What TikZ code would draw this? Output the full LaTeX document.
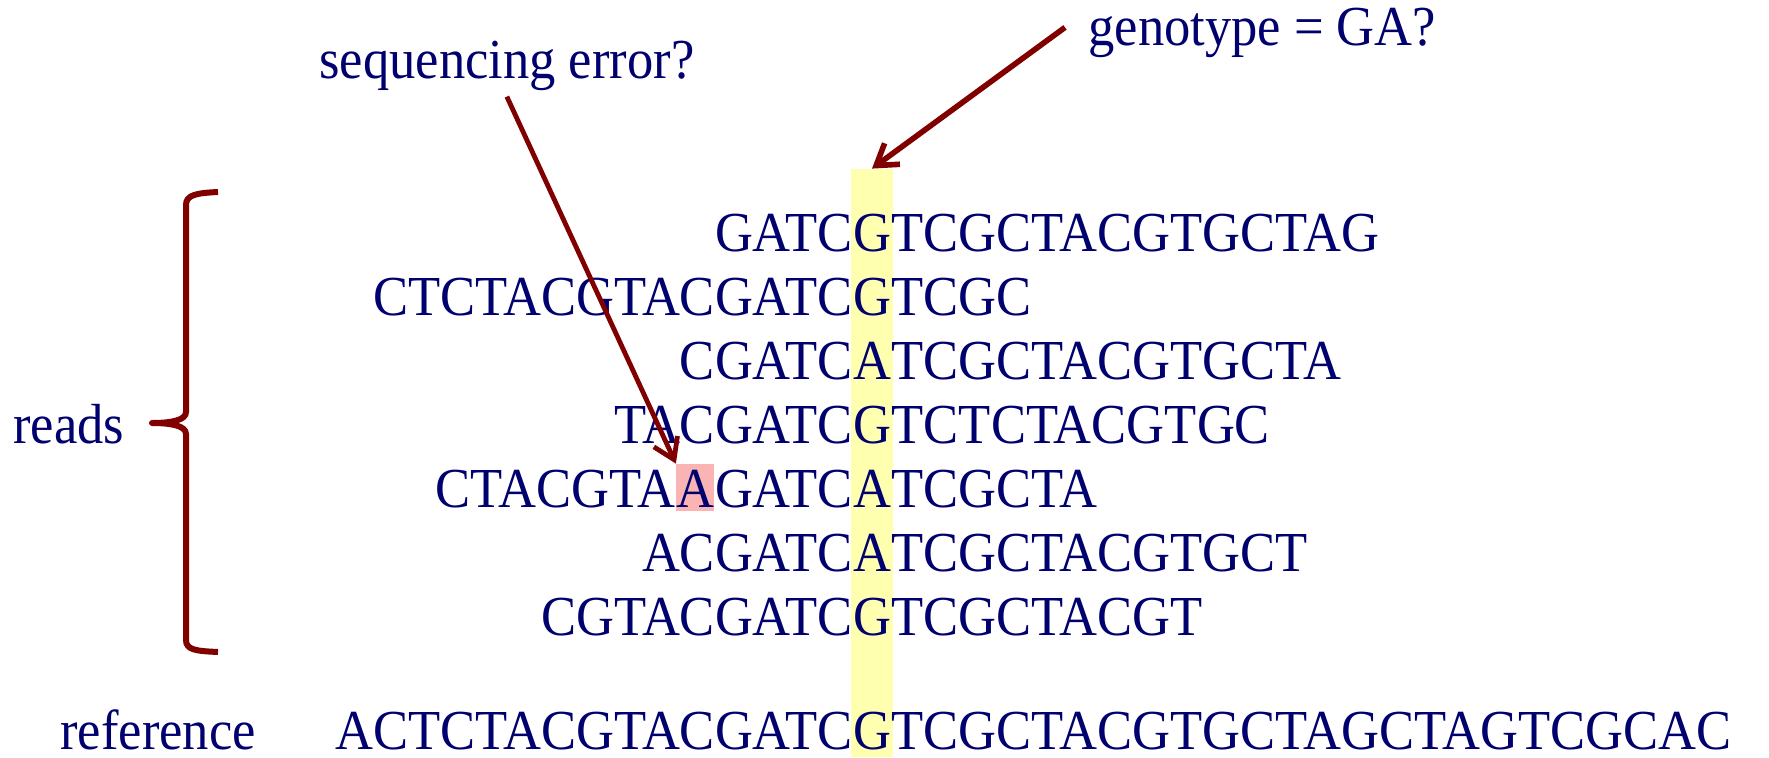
\documentclass[tikz,border=0pt]{standalone}
\usepackage{fontspec}
\setmainfont{Liberation Serif}[FakeStretch=0.93]
\usetikzlibrary{arrows.meta,positioning}
\definecolor{navy}{RGB}{0,0,110}
\definecolor{darkred}{RGB}{128,0,0}
\definecolor{snpyellow}{RGB}{255,255,176}
\definecolor{errpink}{RGB}{250,180,180}

\begin{document}
\begin{tikzpicture}[x=0.5pt, y=-0.5pt, font=\fontsize{28.25}{34}\selectfont,
  >={Straight Barb[length=10pt,width=13pt]},
  seq/.style={inner sep=0pt, text=navy},
  lbl/.style={inner sep=0pt, text=navy},
  pointer/.style={->, draw=darkred, line width=2.8pt}]
\useasboundingbox (0,0) rectangle (1769,757);
% highlighted column at the variant site
\node[fill=snpyellow, minimum width=21pt, minimum height=294pt, inner sep=0pt]
  (col) at (872,463) {};
% reads, each split round the base in the column
\foreach \pre/\snp/\post [count=\i] in {GATC/G/TCGCTACGTGCTAG,
    CTCTACGTACGATC/G/TCGC, CGATC/A/TCGCTACGTGCTA, TACGATC/G/TCTCTACGTGC,
    GATC/A/TCGCTA, ACGATC/A/TCGCTACGTGCT, CGTACGATC/G/TCGCTACGT}{
  \node[seq, anchor=base] (m\i) at (872,{187+64*\i}) {\snp};
  \node[seq, anchor=base east] (l\i) at (m\i.base west) {\pre};
  \node[seq, anchor=base west] (r\i) at (m\i.base east) {\post};
}
% the odd base in read 5
\node[seq, fill=errpink, text height=21.5pt, text depth=2pt, anchor=base east]
  (err) at (l5.base west) {A};
\node[seq, anchor=base east] (l5b) at (err.base west) {CTACGTA};
% reference sequence
\node[seq, anchor=base] (refm) at (872,749) {G};
\node[seq, anchor=base east] (refl) at (refm.base west) {ACTCTACGTACGATC};
\node[seq, anchor=base west] (refr) at (refm.base east) {TCGCTACGTGCTAGCTAGTCGCAC};
\node[lbl, anchor=base west] (reflbl) at (60,749) {reference};
% brace over the reads
\draw[darkred, line width=3pt, line join=round]
  (218,192) .. controls (196,193) and (186,195) .. (186,205) -- (186,412)
  .. controls (186,420) and (172,423) .. (152,423)
  .. controls (172,423) and (186,426) .. (186,434) -- (186,640)
  .. controls (186,650) and (196,651) .. (218,652);
\node[lbl, anchor=base west] (reads) at (13,443) {reads};
% labels and pointers
\node[lbl, anchor=base west] (gt) at (1088,45) {genotype = GA?};
\node[lbl, anchor=base west] (se) at (319,78) {sequencing error?};
\draw[pointer] ([xshift=-11.5pt,yshift=2.5pt]gt.west) -- (col.north);
\draw[pointer, line width=2.4pt] ([yshift=-3pt]se.south) -- (err.north west);
\end{tikzpicture}
\end{document}
